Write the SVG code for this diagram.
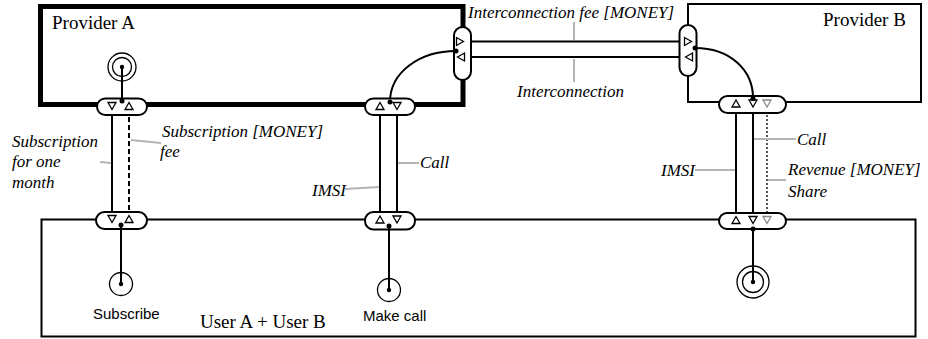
<svg xmlns="http://www.w3.org/2000/svg" width="928" height="339" viewBox="0 0 928 339">
<style>
.thick{fill:none;stroke:#000;stroke-width:5}
.box{fill:none;stroke:#000;stroke-width:2}
.port{fill:#fff;stroke:#000;stroke-width:2}
.ln{fill:none;stroke:#000;stroke-width:2}
.dash{fill:none;stroke:#000;stroke-width:2;stroke-dasharray:5 3}
.dot{fill:none;stroke:#555;stroke-width:2;stroke-dasharray:2 2}
.lead{fill:none;stroke:#b4b4b4;stroke-width:2}
.tri{fill:#fff;stroke:#000;stroke-width:1.3}
.trig{fill:#fff;stroke:#888;stroke-width:1.3}
.ring{fill:none;stroke:#000;stroke-width:1.3}
.hub{fill:#000}
</style>
<defs>
<path id="td" d="M-4,-3.5 L4,-3.5 L0,3.5 Z"/>
<path id="tu" d="M-4,3.5 L4,3.5 L0,-3.5 Z"/>
<path id="tr" d="M-3.5,-4 L-3.5,4 L3.5,0 Z"/>
<path id="tl" d="M3.5,-4 L3.5,4 L-3.5,0 Z"/>
</defs>

<g id="providerA">
<rect class="thick" x="40.5" y="6.5" width="422.5" height="98"/>
<text x="52" y="29" font-family="Liberation Serif, DejaVu Serif, serif" font-size="19">Provider A</text>
</g>
<g id="providerB">
<rect class="box" x="688" y="4" width="233" height="98"/>
<text x="823" y="26" font-family="Liberation Serif, DejaVu Serif, serif" font-size="19">Provider B</text>
</g>
<g id="users">
<rect class="box" x="41.5" y="219.5" width="874" height="117"/>
<text x="200" y="328" font-family="Liberation Serif, DejaVu Serif, serif" font-size="19">User A + User B</text>
</g>

<g id="connectors">
<line class="ln" x1="460" y1="41.5" x2="689" y2="41.5"/>
<line class="ln" x1="461" y1="57" x2="689" y2="57"/>
<path class="ln" d="M390,102 C390,72 420,51 456,51"/>
<path class="ln" d="M695,48 C730,48 753,70 753,98"/>
<line class="ln" x1="112" y1="106" x2="112" y2="219"/>
<line class="dash" x1="129" y1="109" x2="129" y2="219"/>
<line class="ln" x1="380" y1="106" x2="380" y2="219"/>
<line class="ln" x1="397" y1="106" x2="397" y2="219"/>
<line class="ln" x1="736" y1="103" x2="736" y2="219"/>
<line class="ln" x1="753" y1="103" x2="753" y2="219"/>
<line class="dot" x1="767" y1="103" x2="767" y2="219"/>
<line class="lead" x1="574" y1="22" x2="574" y2="40"/>
<line class="lead" x1="574" y1="59" x2="574" y2="82"/>
<line class="lead" x1="131" y1="140" x2="161" y2="143"/>
<line class="lead" x1="100" y1="162" x2="111" y2="163"/>
<line class="lead" x1="345" y1="189" x2="379" y2="187"/>
<line class="lead" x1="398" y1="163" x2="419" y2="163"/>
<line class="lead" x1="754" y1="139" x2="796" y2="139"/>
<line class="lead" x1="695" y1="170" x2="735" y2="170"/>
<line class="lead" x1="768" y1="180" x2="786" y2="180"/>
</g>

<g id="portA1">
<rect class="port" x="97" y="98.5" width="50" height="16.5" rx="8.25"/>
<use href="#td" class="tri" x="112" y="106"/>
<use href="#tu" class="tri" x="129" y="106"/>
<circle class="hub" cx="122" cy="101" r="2.5"/>
</g>
<g id="portA2">
<rect class="port" x="365" y="98.5" width="50" height="16.5" rx="8.25"/>
<use href="#tu" class="tri" x="380" y="106"/>
<use href="#td" class="tri" x="397" y="106"/>
<circle class="hub" cx="390" cy="102" r="2.5"/>
</g>
<g id="portA3">
<rect class="port" x="454" y="27" width="17" height="53" rx="8.5"/>
<use href="#tr" class="tri" x="460" y="41.5"/>
<use href="#tl" class="tri" x="461" y="57"/>
<circle class="hub" cx="456" cy="51" r="2.5"/>
</g>
<g id="portB1">
<rect class="port" x="679.5" y="25" width="17" height="51" rx="8.5"/>
<use href="#tr" class="tri" x="688" y="41.5"/>
<use href="#tl" class="tri" x="689" y="57"/>
<circle class="hub" cx="695" cy="48" r="2.5"/>
</g>
<g id="portB2">
<rect class="port" x="719" y="96" width="67" height="17" rx="8.5"/>
<use href="#tu" class="tri" x="736" y="103.5"/>
<use href="#td" class="tri" x="753" y="103.5"/>
<use href="#td" class="trig" x="767" y="103.5"/>
<circle class="hub" cx="753" cy="98.5" r="2.5"/>
</g>
<g id="portU1">
<rect class="port" x="96" y="212" width="51" height="17" rx="8.5"/>
<use href="#td" class="tri" x="112" y="219"/>
<use href="#tu" class="tri" x="129" y="219"/>
<circle class="hub" cx="121" cy="225" r="2.5"/>
</g>
<g id="portU2">
<rect class="port" x="365" y="212" width="50" height="17.5" rx="8.5"/>
<use href="#tu" class="tri" x="380" y="219.5"/>
<use href="#td" class="tri" x="397" y="219.5"/>
<circle class="hub" cx="389" cy="226" r="2.5"/>
</g>
<g id="portU3">
<rect class="port" x="719" y="213" width="67" height="16" rx="8"/>
<use href="#tu" class="tri" x="736" y="220"/>
<use href="#td" class="tri" x="753" y="220"/>
<use href="#td" class="trig" x="767" y="220"/>
<circle class="hub" cx="753" cy="229" r="2.5"/>
</g>

<g id="antennaA">
<line class="ln" x1="122" y1="67" x2="122" y2="101"/>
<circle class="ring" cx="122" cy="67" r="14"/>
<circle class="ring" cx="122" cy="67" r="9.5"/>
<circle class="hub" cx="122" cy="67" r="2.2"/>
</g>
<g id="subscribe">
<line class="ln" x1="121" y1="225" x2="121" y2="284"/>
<circle class="ring" cx="121" cy="284" r="11.5"/>
<circle class="hub" cx="121" cy="284" r="2.2"/>
<text x="93" y="319" font-family="Liberation Sans, Arial, sans-serif" font-size="15">Subscribe</text>
</g>
<g id="makecall">
<line class="ln" x1="389" y1="226" x2="389" y2="290"/>
<circle class="ring" cx="389" cy="290" r="11.5"/>
<circle class="hub" cx="389" cy="290" r="2.2"/>
<text x="363" y="321" font-family="Liberation Sans, Arial, sans-serif" font-size="15">Make call</text>
</g>
<g id="antennaU">
<line class="ln" x1="753" y1="229" x2="753" y2="282"/>
<circle class="ring" cx="753" cy="282" r="16"/>
<circle class="ring" cx="753" cy="282" r="10.5"/>
<circle class="hub" cx="753" cy="282" r="2.2"/>
</g>

<g id="labels" font-family="Liberation Serif, DejaVu Serif, serif" font-size="17" font-style="italic">
<text x="468" y="18">Interconnection fee [MONEY]</text>
<text x="517" y="97">Interconnection</text>
<text x="162" y="137">Subscription [MONEY]</text>
<text x="160" y="157">fee</text>
<text x="12" y="147">Subscription</text>
<text x="12" y="167">for one</text>
<text x="12" y="188">month</text>
<text x="312" y="196">IMSI</text>
<text x="420" y="168">Call</text>
<text x="661" y="176">IMSI</text>
<text x="797" y="145">Call</text>
<text x="788" y="175">Revenue [MONEY]</text>
<text x="788" y="197">Share</text>
</g>
</svg>
